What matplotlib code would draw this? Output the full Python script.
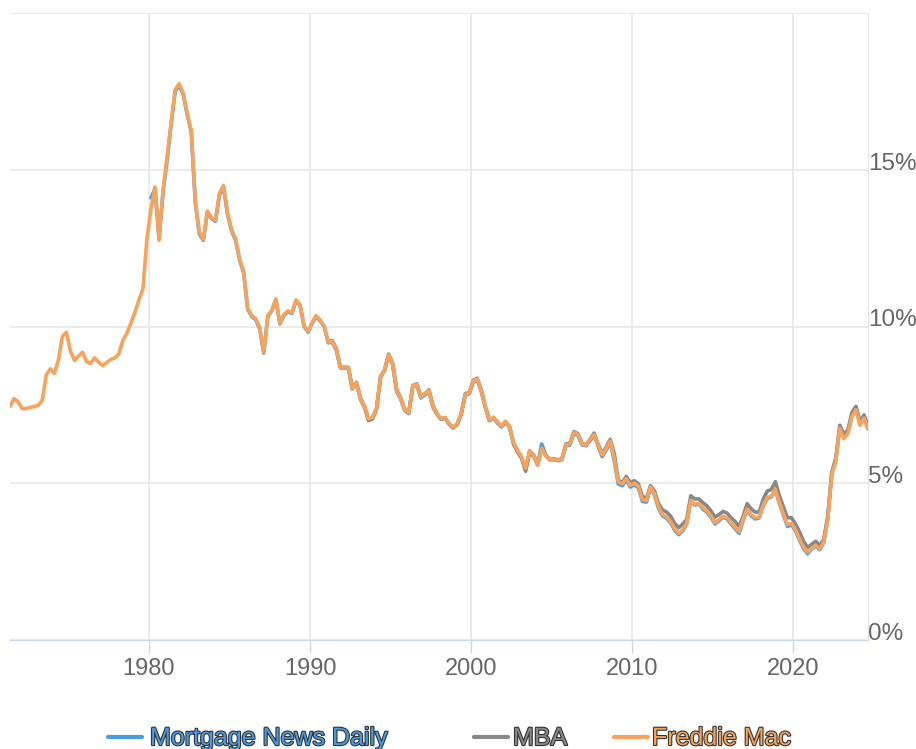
import matplotlib
matplotlib.use('Agg')

import matplotlib.pyplot as plt
import matplotlib.patheffects as pe
from matplotlib.lines import Line2D
import numpy as np

# quarterly averages, 30-year fixed (%)
fm_start = 1971.375   # 1971 Q2
freddie_mac = [
    7.45, 7.70, 7.60,
    7.38, 7.38, 7.42, 7.45,
    7.48, 7.65, 8.45, 8.65,
    8.50, 8.92, 9.68, 9.82,
    9.22, 8.92, 9.05, 9.18,
    8.88, 8.82, 9.00, 8.86,
    8.75, 8.85, 8.95, 9.00,
    9.12, 9.55, 9.78, 10.10,
    10.45, 10.85, 11.20, 12.80,
    13.75, 14.45, 12.75, 14.35,
    15.40, 16.50, 17.55, 17.75,
    17.45, 16.80, 16.25, 14.00,
    13.00, 12.78, 13.68, 13.48,
    13.38, 14.25, 14.50, 13.62,
    13.08, 12.80, 12.15, 11.75,
    10.58, 10.35, 10.25, 9.95,
    9.18, 10.35, 10.52, 10.88,
    10.10, 10.38, 10.50, 10.45,
    10.85, 10.70, 10.02, 9.85,
    10.12, 10.35, 10.20, 10.02,
    9.50, 9.53, 9.28, 8.70,
    8.70, 8.68, 8.02, 8.20,
    7.70, 7.45, 7.05, 7.10,
    7.40, 8.42, 8.62, 9.10,
    8.80, 7.95, 7.70, 7.35,
    7.25, 8.12, 8.15, 7.75,
    7.85, 7.95, 7.45, 7.22,
    7.06, 7.10, 6.90, 6.78,
    6.90, 7.22, 7.82, 7.88,
    8.25, 8.32, 7.95, 7.45,
    7.02, 7.10, 6.95, 6.82,
    6.98, 6.82, 6.30, 6.05,
    5.85, 5.48, 6.05, 5.88,
    5.60, 6.12, 5.88, 5.74,
    5.76, 5.74, 5.77, 6.22,
    6.25, 6.62, 6.55, 6.25,
    6.22, 6.38, 6.55, 6.22,
    5.90, 6.10, 6.35, 5.80,
    5.05, 4.98, 5.15, 4.93,
    5.00, 4.90, 4.48, 4.45,
    4.88, 4.66, 4.25, 4.00,
    3.92, 3.78, 3.55, 3.40,
    3.52, 3.72, 4.45, 4.32,
    4.36, 4.22, 4.12, 3.96,
    3.74, 3.84, 3.95, 3.90,
    3.74, 3.60, 3.45, 3.85,
    4.18, 4.00, 3.90, 3.93,
    4.30, 4.55, 4.58, 4.80,
    4.38, 4.02, 3.68, 3.72,
    3.52, 3.22, 2.97, 2.80,
    2.92, 3.02, 2.90, 3.12,
    3.82, 5.28, 5.70, 6.75,
    6.42, 6.58, 7.12, 7.35,
    6.85, 7.08, 6.72,
]

mba_start = 1991.125  # 1991 Q1
mba = [
    9.52, 9.55, 9.30, 8.72,
    8.70, 8.70, 8.05, 8.22,
    7.72, 7.45, 7.00, 7.05,
    7.38, 8.40, 8.62, 9.12,
    8.82, 7.98, 7.72, 7.35,
    7.25, 8.12, 8.17, 7.78,
    7.85, 7.98, 7.48, 7.22,
    7.05, 7.08, 6.90, 6.78,
    6.88, 7.20, 7.85, 7.90,
    8.28, 8.35, 7.98, 7.45,
    7.00, 7.10, 6.95, 6.80,
    6.95, 6.80, 6.25, 6.00,
    5.80, 5.38, 6.00, 5.85,
    5.58, 6.12, 5.88, 5.75,
    5.78, 5.75, 5.78, 6.25,
    6.28, 6.65, 6.58, 6.28,
    6.22, 6.40, 6.60, 6.25,
    5.95, 6.15, 6.40, 5.95,
    5.10, 5.02, 5.22, 5.02,
    5.08, 4.98, 4.58, 4.52,
    4.92, 4.75, 4.35, 4.15,
    4.08, 3.95, 3.72, 3.58,
    3.70, 3.85, 4.60, 4.50,
    4.50, 4.38, 4.28, 4.12,
    3.92, 4.00, 4.10, 4.05,
    3.90, 3.78, 3.62, 3.95,
    4.35, 4.18, 4.08, 4.08,
    4.50, 4.75, 4.80, 5.05,
    4.60, 4.25, 3.90, 3.90,
    3.70, 3.45, 3.15, 2.95,
    3.05, 3.15, 3.02, 3.20,
    3.95, 5.35, 5.80, 6.85,
    6.55, 6.70, 7.25, 7.45,
    6.95, 7.18, 6.85,
]

mnd_start = 1980.125  # 1980 Q1
mnd = [
    14.10, 14.40, 12.80, 14.30,
    15.30, 16.45, 17.50, 17.70,
    17.40, 16.75, 16.20, 13.95,
    12.95, 12.75, 13.65, 13.45,
    13.35, 14.20, 14.45, 13.58,
    13.05, 12.75, 12.12, 11.72,
    10.55, 10.32, 10.22, 9.92,
    9.15, 10.32, 10.50, 10.85,
    10.08, 10.35, 10.48, 10.42,
    10.82, 10.68, 10.00, 9.82,
    10.10, 10.32, 10.18, 10.00,
    9.48, 9.50, 9.25, 8.68,
    8.68, 8.65, 8.00, 8.18,
    7.68, 7.42, 7.02, 7.08,
    7.38, 8.40, 8.60, 9.08,
    8.78, 7.92, 7.68, 7.32,
    7.22, 8.10, 8.12, 7.72,
    7.82, 7.92, 7.42, 7.20,
    7.04, 7.08, 6.88, 6.76,
    6.88, 7.20, 7.80, 7.86,
    8.22, 8.30, 7.92, 7.42,
    7.00, 7.08, 6.92, 6.80,
    6.95, 6.80, 6.28, 6.02,
    5.82, 5.45, 6.02, 5.90,
    5.62, 6.25, 5.90, 5.75,
    5.75, 5.72, 5.75, 6.20,
    6.22, 6.60, 6.52, 6.22,
    6.20, 6.36, 6.52, 6.18,
    5.85, 6.05, 6.30, 5.72,
    4.98, 4.92, 5.10, 4.88,
    4.95, 4.85, 4.42, 4.40,
    4.85, 4.62, 4.20, 3.96,
    3.88, 3.74, 3.50, 3.36,
    3.48, 3.70, 4.45, 4.30,
    4.34, 4.18, 4.08, 3.92,
    3.70, 3.80, 3.92, 3.86,
    3.70, 3.55, 3.40, 3.82,
    4.15, 3.96, 3.86, 3.90,
    4.28, 4.52, 4.56, 4.78,
    4.35, 3.98, 3.62, 3.68,
    3.48, 3.18, 2.92, 2.75,
    2.90, 3.00, 2.88, 3.10,
    3.85, 5.30, 5.75, 6.80,
    6.45, 6.62, 7.18, 7.42,
    6.90, 7.12, 6.78,
]

series_names = ["Mortgage News Daily", "MBA", "Freddie Mac"]
series_colors = ["#4a9be6", "#888888", "#f7a35c"]
year_ticks = [1980, 1990, 2000, 2010, 2020]
pct_ticks = [0, 5, 10, 15, 20]
pct_labels = ["0%", "5%", "10%", "15%", ""]

W, H = 916, 749
fig = plt.figure(figsize=(W / 100, H / 100), dpi=100)
ax = fig.add_axes([10 / W, 1 - 640 / H, 858 / W, (640 - 13) / H])

def quarters(start, vals):
    return start + 0.25 * np.arange(len(vals))

data = [(mnd_start, mnd), (mba_start, mba), (fm_start, freddie_mac)]
for (start, vals), c in zip(data, series_colors):
    ax.plot(quarters(start, vals), vals, color=c, lw=2.6,
            solid_joinstyle="round", solid_capstyle="round")

ax.set_xlim(fm_start, fm_start + 0.25 * (len(freddie_mac) - 1))
ax.set_ylim(0, 20)

ax.set_xticks(year_ticks)
ax.set_yticks(pct_ticks)
ax.set_yticklabels(pct_labels)
ax.yaxis.tick_right()
ax.grid(True, color="#e6e6e6", lw=1.1)
ax.set_axisbelow(True)

for s in ["left", "top"]:
    ax.spines[s].set_visible(False)
ax.spines["bottom"].set_color("#ccd6eb")
ax.spines["right"].set_color("#e0e5f2")

axis_font = "Liberation Sans Narrow"
ax.tick_params(axis="x", direction="out", length=9, width=1, color="#ccd6eb",
               labelcolor="#666666", labelsize=17, pad=4)
ax.tick_params(axis="y", length=0, labelcolor="#666666", labelsize=17.5, pad=0)
for lbl in ax.get_xticklabels() + ax.get_yticklabels():
    lbl.set_family([axis_font, "Liberation Sans", "DejaVu Sans"])
for lbl in ax.get_yticklabels():
    lbl.set_va("baseline")

# legend along the bottom edge
handle_x = [108, 474, 614]
text_x = [150, 513, 652]
for name, c, hx, tx in zip(series_names, series_colors, handle_x, text_x):
    fig.add_artist(Line2D([hx / W, (hx + 34) / W], [1 - 737 / H] * 2,
                          color=c, lw=3, solid_capstyle="round"))
    fig.text(tx / W, 1 - 745 / H, name, color=c, fontsize=18,
             family=["Liberation Sans", "DejaVu Sans"], va="baseline",
             path_effects=[pe.withStroke(linewidth=1.6, foreground="#333333")])

plt.savefig("out.png", dpi=100)
